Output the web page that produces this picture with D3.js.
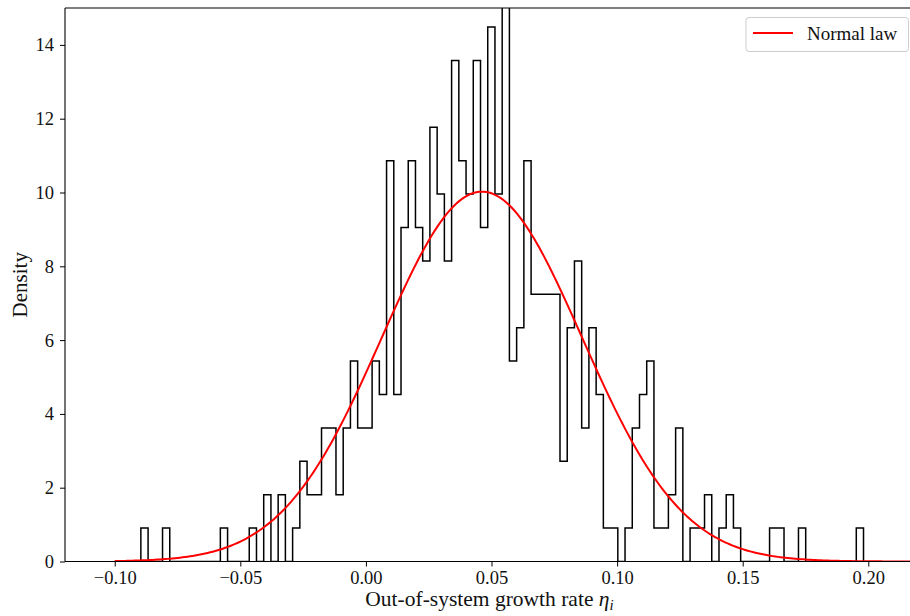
<!DOCTYPE html>
<html>
<head>
<meta charset="utf-8">
<script src="https://cdn.jsdelivr.net/npm/d3@7"></script>
<style>
  html, body { margin: 0; padding: 0; background: #fff; overflow: hidden; }
  svg { display: block; }
  text { font-family: "Liberation Serif", "DejaVu Serif", serif; fill: #111; }
</style>
</head>
<body>
<svg id="chart" width="910" height="616"></svg>
<script>
// Histogram of out-of-system growth rates: 100 equal bins over the sample range
const sampleMin = -0.0896;
const sampleMax = 0.1981;
const binCounts = [
  1, 0, 0, 1, 0, 0, 0, 0, 0, 0,
  0, 1, 0, 0, 0, 1, 0, 2, 0, 2,
  0, 1, 3, 2, 2, 4, 4, 2, 4, 6,
  4, 4, 6, 5, 12, 5, 10, 12, 10, 9,
  13, 11, 9, 15, 12, 11, 15, 10, 16, 11,
  18, 6, 7, 12, 8, 8, 8, 8, 3, 7,
  9, 4, 7, 5, 1, 1, 0, 1, 4, 5,
  6, 1, 1, 2, 4, 0, 1, 1, 2, 0,
  1, 2, 1, 0, 0, 0, 0, 1, 1, 0,
  0, 1, 0, 0, 0, 0, 0, 0, 0, 1
];

// Fitted normal law
const normalMean = 0.0462;
const normalStd = 0.0398;
const curveFrom = -0.10;
const curveTo = 0.30;

// Axis ticks
const xTicks = [-0.10, -0.05, 0.00, 0.05, 0.10, 0.15, 0.20];
const yTicks = [0, 2, 4, 6, 8, 10, 12, 14];

const xLabel = "Out-of-system growth rate ";
const yLabel = "Density";
const legendLabel = "Normal law";

const svg = d3.select("#chart");
const plot = { left: 65, right: 914, top: 8, bottom: 561.5 };

const x = d3.scaleLinear().domain([-0.1198, 0.2182]).range([plot.left, plot.right]);
const y = d3.scaleLinear().domain([0, 15]).range([plot.bottom, plot.top]);

svg.append("defs").append("clipPath").attr("id", "plotClip")
  .append("rect")
  .attr("x", plot.left).attr("y", plot.top)
  .attr("width", plot.right - plot.left).attr("height", plot.bottom - plot.top);

// Density-normalised step outline
const nBins = binCounts.length;
const binWidth = (sampleMax - sampleMin) / nBins;
const total = d3.sum(binCounts);
const edges = d3.range(nBins + 1).map(i => sampleMin + i * binWidth);
const stepPts = [[edges[0], 0]];
binCounts.forEach((c, i) => {
  const dens = c / (total * binWidth);
  stepPts.push([edges[i], dens], [edges[i + 1], dens]);
});
stepPts.push([edges[nBins], 0]);

const line = d3.line().x(d => x(d[0])).y(d => y(d[1]));

const g = svg.append("g").attr("clip-path", "url(#plotClip)");
g.append("path")
  .attr("d", line(stepPts))
  .attr("fill", "none")
  .attr("stroke", "#000")
  .attr("stroke-width", 1.5)
  .attr("stroke-linejoin", "miter");

// Normal density curve
const pdf = v => Math.exp(-0.5 * ((v - normalMean) / normalStd) ** 2) / (normalStd * Math.sqrt(2 * Math.PI));
const curvePts = d3.range(0, 401).map(i => {
  const v = curveFrom + (curveTo - curveFrom) * i / 400;
  return [v, pdf(v)];
});
g.append("path")
  .attr("d", line(curvePts))
  .attr("fill", "none")
  .attr("stroke", "#ff0000")
  .attr("stroke-width", 2);

// Axes
const fmt = v => d3.format(".2f")(v).replace("-", "\u2212");
const xAxis = d3.axisBottom(x).tickValues(xTicks).tickFormat(fmt).tickSizeOuter(0).tickSize(5).tickPadding(4);
const yAxis = d3.axisLeft(y).tickValues(yTicks).tickFormat(d3.format("d")).tickSizeOuter(0).tickSize(5).tickPadding(6);

const gx = svg.append("g").attr("transform", `translate(0,${plot.bottom})`).call(xAxis);
const gy = svg.append("g").attr("transform", `translate(${plot.left},0)`).call(yAxis);
[gx, gy].forEach(a => {
  a.select(".domain").remove();
  a.selectAll(".tick line").attr("stroke", "#000").attr("stroke-width", 1);
  a.selectAll(".tick text").attr("font-family", "Liberation Serif, serif").attr("font-size", 18.5).attr("fill", "#111");
});

// Spines
svg.append("line").attr("x1", plot.left).attr("x2", plot.left).attr("y1", plot.top).attr("y2", plot.bottom)
  .attr("stroke", "#000").attr("stroke-width", 1.1);
svg.append("line").attr("x1", plot.left).attr("x2", plot.right).attr("y1", plot.bottom).attr("y2", plot.bottom)
  .attr("stroke", "#000").attr("stroke-width", 1.1);
svg.append("line").attr("x1", plot.left).attr("x2", plot.right).attr("y1", plot.top).attr("y2", plot.top)
  .attr("stroke", "#000").attr("stroke-width", 1.1);
svg.append("line").attr("x1", plot.right).attr("x2", plot.right).attr("y1", plot.top).attr("y2", plot.bottom)
  .attr("stroke", "#000").attr("stroke-width", 1.1);

// Axis labels
const xl = svg.append("text")
  .attr("x", (plot.left + plot.right) / 2).attr("y", 606)
  .attr("text-anchor", "middle").attr("font-size", 21.5);
xl.append("tspan").text(xLabel);
xl.append("tspan").attr("font-style", "italic").text("\u03b7");
xl.append("tspan").attr("font-style", "italic").attr("font-size", 15).attr("dy", 4).text("i");

svg.append("text")
  .attr("transform", `translate(27,${(plot.top + plot.bottom) / 2}) rotate(-90)`)
  .attr("text-anchor", "middle").attr("font-size", 21)
  .text(yLabel);

// Legend
const lg = svg.append("g");
lg.append("rect")
  .attr("x", 746).attr("y", 17.5).attr("width", 162.5).attr("height", 34)
  .attr("rx", 3).attr("fill", "#fff").attr("fill-opacity", 0.8)
  .attr("stroke", "#cccccc").attr("stroke-width", 1);
lg.append("line").attr("x1", 753).attr("x2", 793).attr("y1", 33).attr("y2", 33)
  .attr("stroke", "#ff0000").attr("stroke-width", 2);
lg.append("text").attr("x", 807).attr("y", 40).attr("font-size", 19).text(legendLabel);
</script>
</body>
</html>
